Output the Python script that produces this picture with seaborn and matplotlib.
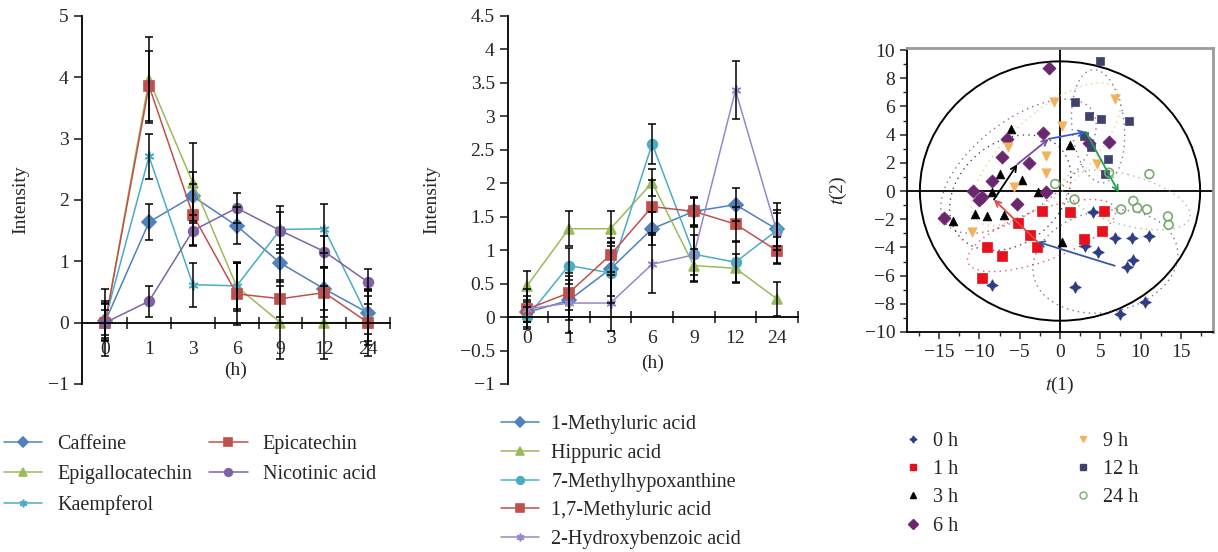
import matplotlib
matplotlib.use("Agg")
import matplotlib.pyplot as plt
from matplotlib.patches import Ellipse
from matplotlib.lines import Line2D
from matplotlib.ticker import MultipleLocator, FixedLocator, FuncFormatter
import seaborn as sns
import pandas as pd
import numpy as np

hours = ['0', '1', '3', '6', '9', '12', '24']

# panel 1: tea compounds
names_a = ['Caffeine', 'Epigallocatechin', 'Kaempferol', 'Epicatechin', 'Nicotinic acid']
values_a = [
    [0.02, 1.64, 2.06, 1.58, 0.97, 0.55, 0.16],
    [0.00, 3.96, 2.28, 0.59, 0.00, 0.00, 0.00],
    [0.05, 2.71, 0.62, 0.60, 1.52, 1.53, 0.08],
    [0.00, 3.86, 1.76, 0.47, 0.39, 0.49, 0.00],
    [0.00, 0.35, 1.50, 1.87, 1.50, 1.16, 0.66],
]
errors_a = [
    [0.30, 0.29, 0.40, 0.30, 0.30, 0.35, 0.35],
    [0.55, 0.70, 0.65, 0.40, 0.60, 0.60, 0.30],
    [0.30, 0.36, 0.36, 0.38, 0.38, 0.40, 0.45],
    [0.30, 0.57, 0.50, 0.50, 0.30, 0.40, 0.55],
    [0.20, 0.25, 0.25, 0.25, 0.30, 0.25, 0.22],
]
colors_a = ['#4f81bd', '#9bbb59', '#4bacc6', '#c0504d', '#8064a2']
markers_a = ['D', '^', (6, 2, 0), 's', 'o']

# panel 2: endogenous metabolites
names_b = ['1-Methyluric acid', 'Hippuric acid', '7-Methylhypoxanthine',
           '1,7-Methyluric acid', '2-Hydroxybenzoic acid']
values_b = [
    [0.07, 0.25, 0.72, 1.32, 1.58, 1.68, 1.31],
    [0.47, 1.32, 1.32, 2.01, 0.77, 0.73, 0.27],
    [0.00, 0.77, 0.66, 2.59, 0.94, 0.82, 1.30],
    [0.12, 0.36, 0.93, 1.65, 1.58, 1.39, 0.99],
    [0.12, 0.21, 0.21, 0.79, 0.93, 3.39, 1.26],
]
errors_b = [
    [0.15, 0.30, 0.40, 0.25, 0.20, 0.25, 0.25],
    [0.22, 0.26, 0.26, 0.20, 0.25, 0.22, 0.25],
    [0.15, 0.27, 0.45, 0.30, 0.40, 0.30, 0.30],
    [0.20, 0.25, 0.25, 0.40, 0.22, 0.25, 0.20],
    [0.30, 0.45, 0.42, 0.43, 0.30, 0.43, 0.45],
]
colors_b = ['#4f81bd', '#9bbb59', '#4bacc6', '#c0504d', '#9a86c8']
markers_b = ['D', '^', 'o', 's', (6, 2, 0)]

# panel 3: PLS-DA scores
groups = ['0 h', '1 h', '3 h', '6 h', '9 h', '12 h', '24 h']
scores = {
    '0 h': ([4.1, 6.8, 8.9, 11.0, 4.7, 9.1, 8.3, 3.1, 1.9, -8.4, 7.4, 10.6],
            [-1.5, -3.3, -3.3, -3.2, -4.3, -4.9, -5.4, -3.9, -6.8, -6.7, -8.7, -7.9]),
    '1 h': ([-2.2, 1.2, 5.5, 5.2, 3.0, -5.2, -3.7, -2.9, -9.1, -7.2, -9.7],
            [-1.4, -1.5, -1.4, -2.8, -3.4, -2.3, -3.1, -4.0, -4.0, -4.6, -6.2]),
    '3 h': ([-6.1, -7.5, -4.7, -2.7, 1.2, -10.5, -9.1, -7.0, -13.3, 0.3, -8.5],
            [4.4, 1.2, 0.8, -0.1, 3.3, -1.6, -1.8, -1.7, -2.1, -3.6, -0.1]),
    '6 h': ([-1.4, -6.6, -2.1, -7.2, -3.9, -8.5, -10.8, -9.7, -10.1, -1.8, -5.4, -14.4, 3.6, 6.1],
            [8.7, 3.7, 4.1, 2.4, 2.0, 0.7, 0.0, -0.4, -0.6, -0.1, -0.9, -1.9, 3.4, 3.5]),
    '9 h': ([-0.7, 6.8, 0.3, -6.4, -1.8, -1.8, -5.7, 4.6, -10.9],
            [6.3, 6.5, 4.6, 3.1, 2.5, 1.3, 0.3, 1.9, -2.9]),
    '12 h': ([5.0, 1.9, 3.6, 5.1, 8.6, 3.9, 5.9, 5.6, 3.0],
             [9.2, 6.3, 5.3, 5.1, 5.0, 3.1, 2.3, 1.2, 3.9]),
    '24 h': ([11.1, -0.6, 1.8, 7.6, 9.1, 9.6, 10.8, 13.4, 13.5, 6.1],
             [1.2, 0.5, -0.6, -1.3, -0.7, -1.2, -1.3, -1.8, -2.4, 1.3]),
}
group_colors = ['#2e3d86', '#e8101a', '#000000', '#6a2770', '#f2b35e', '#40426e', '#7aaa70']
group_markers = [(4, 1, 0), 's', '^', 'D', 'v', 's', 'o']
group_sizes = [70, 55, 40, 45, 45, 28, 40]

# time trajectory of group centres
traj_t1 = [6.8, -2.8, -8.2, -5.3, -1.4, 3.2, 7.3]
traj_t2 = [-5.3, -3.6, -0.6, 1.9, 3.7, 4.2, -0.1]
traj_colors = ['#3a55a8', '#e04848', '#000000', '#7a48a8', '#3a5ad0', '#22a05a']

# Hotelling T2 ellipse half-axes
t2_rx, t2_ry = 17.4, 9.2

sns.set_style('white')
plt.rcParams['font.family'] = ['Liberation Serif', 'DejaVu Serif']
plt.rcParams['mathtext.fontset'] = 'stix'

W, H = 1218, 552
fig = plt.figure(figsize=(W / 100, H / 100), dpi=100)


def px_axes(left, top, right, bottom):
    return fig.add_axes([left / W, 1 - bottom / H, (right - left) / W, (bottom - top) / H])


def short_num(v, _):
    return ('%g' % v).replace('-', '\u2212')


def line_panel(ax, names, values, errors, colors, markers, ylim, ystep, pad):
    pos = list(range(len(hours)))
    for n, vals, c, m in zip(names, values, colors, markers):
        df = pd.DataFrame({'pos': pos, 'value': vals})
        sns.lineplot(data=df, x='pos', y='value', color=c, marker=m, markersize=7,
                     markeredgecolor=c, markeredgewidth=1.2, linewidth=1.1, ax=ax, zorder=2)
    for vals, errs in zip(values, errors):
        ax.errorbar(pos, vals, yerr=errs, fmt='none', ecolor='black',
                    elinewidth=1.1, capsize=3, capthick=1.1, zorder=3)
    ax.set_xlim(-0.5, 6.5)
    ax.set_ylim(*ylim)
    ax.spines[['top', 'right']].set_visible(False)
    ax.spines['bottom'].set_position(('data', 0))
    for s in ['left', 'bottom']:
        ax.spines[s].set_linewidth(1.3)
        ax.spines[s].set_color('black')
    ax.yaxis.set_major_locator(MultipleLocator(ystep))
    ax.yaxis.set_major_formatter(FuncFormatter(short_num))
    ax.tick_params(axis='y', direction='out', length=6, width=1.2, labelsize=14, left=True)
    ax.set_xticks(pos)
    ax.set_xticklabels(hours)
    ax.xaxis.set_minor_locator(FixedLocator(np.arange(0.5, 7, 1.0)))
    ax.tick_params(axis='x', which='major', length=0, pad=pad, labelsize=14)
    ax.tick_params(axis='x', which='minor', direction='inout', length=8, width=1.2, bottom=True)
    ax.set_xlabel('')
    ax.set_ylabel('Intensity', fontsize=14)


# left panel
ax1 = px_axes(82, 16, 390, 384)
line_panel(ax1, names_a, values_a, errors_a, colors_a, markers_a, (-1, 5), 1, 13)
ax1.set_xlim(-0.53, 6.5)
ax1.yaxis.set_label_coords(-0.17, 0.5)
ax1.text(0.5, 0.038, '(h)', transform=ax1.transAxes, ha='center', va='center', fontsize=14)

# middle panel
ax2 = px_axes(508, 16, 798, 384)
line_panel(ax2, names_b, values_b, errors_b, colors_b, markers_b, (-1, 4.5), 0.5, 9)
ax2.set_xlim(-0.46, 6.5)
ax2.yaxis.set_label_coords(-0.235, 0.5)
ax2.text(0.5, 0.057, '(h)', transform=ax2.transAxes, ha='center', va='center', fontsize=14)

# right panel
ax3 = px_axes(907, 48, 1213, 332)
ax3.axhline(0, color='black', lw=1.3, zorder=1)
ax3.axvline(0, color='black', lw=1.3, zorder=1)
ax3.add_patch(Ellipse((0, 0), 2 * t2_rx, 2 * t2_ry, fill=False, ec='black', lw=1.4, zorder=1))
for g, c in zip(groups, group_colors):
    x = np.array(scores[g][0])
    y = np.array(scores[g][1])
    cov = np.cov(x, y)
    evals, evecs = np.linalg.eigh(cov)
    ang = np.degrees(np.arctan2(evecs[1, 1], evecs[0, 1]))
    ax3.add_patch(Ellipse((x.mean(), y.mean()), 2 * 1.7 * np.sqrt(evals[1]),
                          2 * 1.7 * np.sqrt(evals[0]), angle=ang, fill=False,
                          ec=c, lw=1.0, ls=(0, (1, 3)), alpha=0.7, zorder=1))
for g, c, m, s in zip(groups, group_colors, group_markers, group_sizes):
    df = pd.DataFrame({'t1': scores[g][0], 't2': scores[g][1]})
    if g == '24 h':
        sns.scatterplot(data=df, x='t1', y='t2', marker=m, s=s, facecolors='none',
                        edgecolor=c, linewidth=1.2, ax=ax3, zorder=3)
    else:
        sns.scatterplot(data=df, x='t1', y='t2', marker=m, s=s, color=c,
                        edgecolor=c, linewidth=0.5, ax=ax3, zorder=3)
for i in range(len(traj_t1) - 1):
    ax3.annotate('', xy=(traj_t1[i + 1], traj_t2[i + 1]), xytext=(traj_t1[i], traj_t2[i]),
                 arrowprops=dict(arrowstyle='->', color=traj_colors[i], lw=1.3,
                                 shrinkA=0, shrinkB=0), zorder=4)
ax3.set_xlim(-19, 19)
ax3.set_ylim(-10, 10.15)
ax3.xaxis.set_major_locator(MultipleLocator(5))
ax3.xaxis.set_minor_locator(MultipleLocator(2.5))
ax3.set_yticks(np.arange(-10, 11, 2))
ax3.yaxis.set_minor_locator(MultipleLocator(1))
ax3.tick_params(axis='both', which='both', direction='out', labelsize=14,
                left=True, bottom=True)
ax3.tick_params(which='major', length=5, width=1.1)
ax3.tick_params(which='minor', length=3, width=1.0)
for s in ['left', 'bottom']:
    ax3.spines[s].set_color('black')
    ax3.spines[s].set_linewidth(1.3)
for s in ['top', 'right']:
    ax3.spines[s].set_color('#9a9a9a')
    ax3.spines[s].set_linewidth(2)
ax3.set_xlabel('$t$(1)', fontsize=14)
ax3.set_ylabel('$t$(2)', fontsize=14)
ax3.xaxis.set_label_coords(0.5, -0.15)
ax3.yaxis.set_label_coords(-0.19, 0.5)

# legends
handles_a = [Line2D([], [], color=c, marker=m, markersize=5.5, markeredgecolor=c, mew=1.2, lw=1.1)
             for c, m in zip(colors_a, markers_a)]
fig.legend(handles_a, names_a, loc='upper left', bbox_to_anchor=(4 / W, 1 - 435 / H),
           ncol=2, frameon=False, fontsize=14.5, handlelength=1.9, handletextpad=0.75,
           columnspacing=0.85, labelspacing=0.55, borderpad=0, borderaxespad=0)

handles_b = [Line2D([], [], color=c, marker=m, markersize=5.5, markeredgecolor=c, mew=1.2, lw=1.1)
             for c, m in zip(colors_b, markers_b)]
fig.legend(handles_b, names_b, loc='upper left', bbox_to_anchor=(501 / W, 1 - 415 / H),
           ncol=1, frameon=False, fontsize=14.5, handlelength=1.9, handletextpad=0.6,
           labelspacing=0.48, borderpad=0, borderaxespad=0)

handles_c = []
for g, c, m in zip(groups, group_colors, group_markers):
    fc = 'none' if g == '24 h' else c
    handles_c.append(Line2D([], [], ls='none', marker=m, markersize=5, color=c,
                            markerfacecolor=fc, markeredgecolor=c))
fig.legend(handles_c, groups, loc='upper left', bbox_to_anchor=(903 / W, 1 - 432 / H),
           ncol=2, frameon=False, fontsize=14.5, handlelength=1.0, handletextpad=0.5,
           columnspacing=5.7, labelspacing=0.45, borderpad=0, borderaxespad=0)

fig.savefig('out.png', dpi=100)
